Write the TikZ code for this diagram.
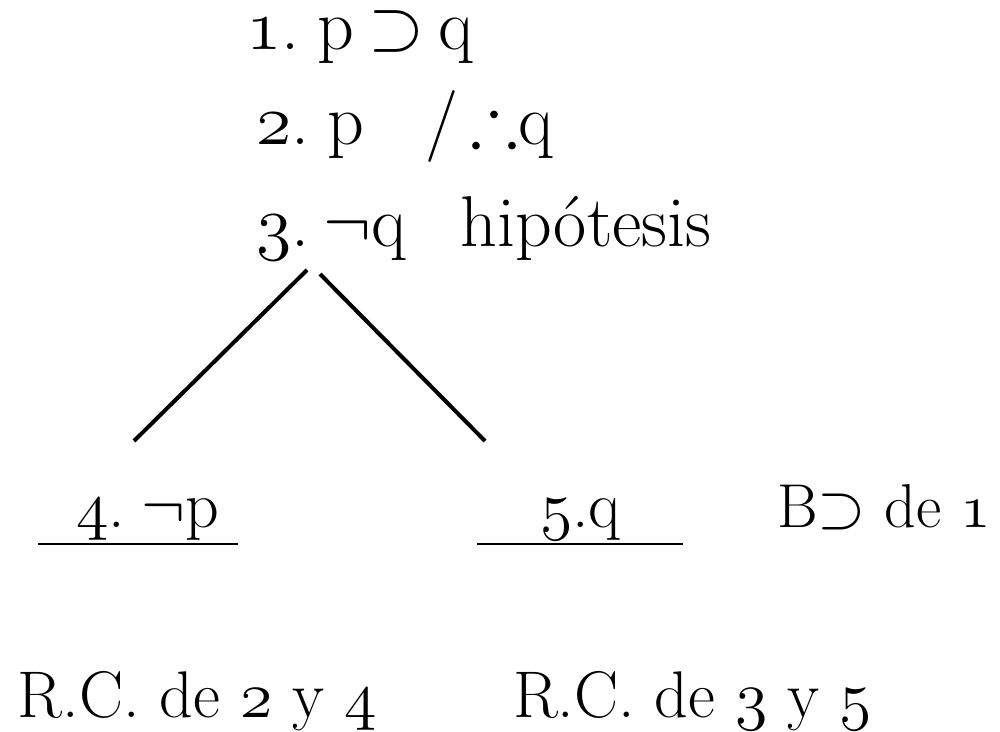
\RequirePackage{fix-cm}
\documentclass[tikz,border=0pt]{standalone}
\usepackage{amssymb}
\newcommand{\osn}[1]{{\usefont{OML}{cmm}{m}{it}#1}}
\tikzset{
  txt/.style={inner sep=0pt, outer sep=0pt, anchor=base west},
  topf/.style={font=\fontsize{36}{40}\selectfont},
  botf/.style={font=\fontsize{33}{38}\selectfont},
  lowf/.style={font=\fontsize{31}{36}\selectfont},
  rcf/.style={font=\fontsize{33}{38}\selectfont},
  branch/.style={line width=2pt},
  rule/.style={line width=1pt}
}
\begin{document}
\begin{tikzpicture}[x=0.5pt,y=-0.5pt]
\useasboundingbox (0,0) rectangle (1000,732);
% premises
\node[txt,topf] (l1) at (246,50) {\osn{1}.\hspace{0.25em}p\hspace{0.2em}$\supset$\hspace{0.2em}q};
\node[txt,topf] (l2) at (256,145) {\osn{2}.\hspace{0.25em}p\hspace{0.85em}/$\,\therefore$q};
\node[txt,topf] (l3) at (256,247) {\osn{3}.\hspace{0.2em}$\neg$q\hspace{0.75em}hipótesis};
% branches
\coordinate (b1) at (307,270);
\coordinate (b2) at (320,274);
\coordinate (e1) at (134,441);
\coordinate (e2) at (485,441);
\draw[branch] (b1) -- (e1);
\draw[branch] (b2) -- (e2);
% branch nodes
\node[txt,botf] (n4) at (76,527) {\osn{4}.\hspace{0.25em}$\neg$p};
\node[txt,botf] (n5) at (540,527) {\osn{5}.q};
\node[txt,lowf] (bd) at (777,527) {B$\supset$ de \osn{1}};
\coordinate (u1a) at (38,544);
\coordinate (u1b) at (238,544);
\coordinate (u2a) at (477,544);
\coordinate (u2b) at (683,544);
\draw[rule] (u1a) -- (u1b);
\draw[rule] (u2a) -- (u2b);
% closing
\node[txt,rcf] (rc1) at (18,717) {R.C. de \osn{2} y \osn{4}};
\node[txt,rcf] (rc2) at (513,717) {R.C. de \osn{3} y \osn{5}};
\end{tikzpicture}
\end{document}
